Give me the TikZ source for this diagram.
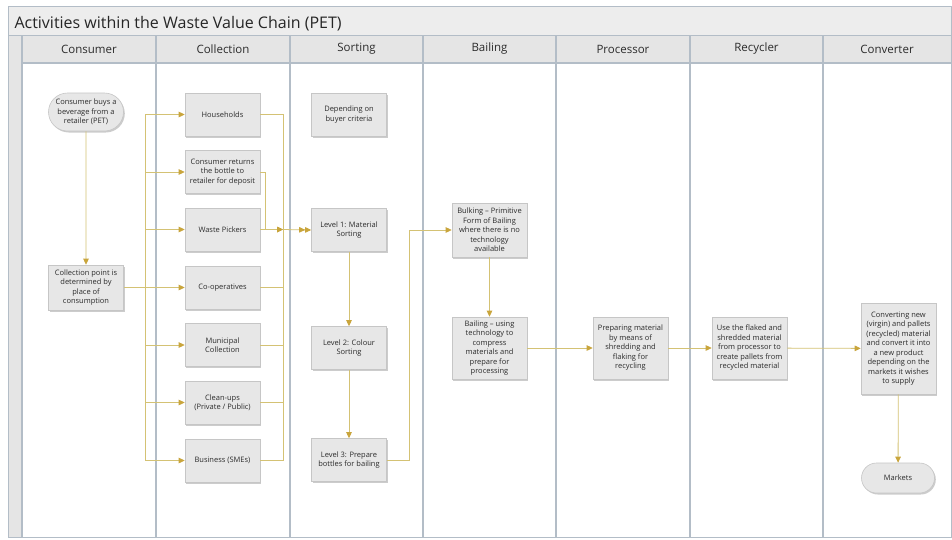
\documentclass[tikz,border=0pt]{standalone}
\usepackage{fontspec}
\setmainfont{Open Sans}
\usetikzlibrary{arrows.meta,shapes.misc,shadows}
\definecolor{flowgold}{HTML}{D4C274}
\definecolor{tipgold}{HTML}{C9A53C}
\definecolor{boxfill}{HTML}{E7E7E7}
\definecolor{boxline}{HTML}{C6C6C6}
\definecolor{lane}{HTML}{B3BDC7}
\definecolor{headfill}{HTML}{E5E5E5}
\definecolor{titlefill}{HTML}{EDEDED}
\definecolor{ink}{HTML}{2C2C2C}
\begin{document}
\begin{tikzpicture}[x=1pt,y=-1pt,
  proc/.style={draw=boxline, fill=boxfill, line width=0.6pt,
    minimum width=75pt, minimum height=43pt, inner sep=1pt, align=center,
    font=\fontsize{7.5}{9.5}\selectfont, text=ink,
    drop shadow={shadow xshift=1.3pt, shadow yshift=-1.5pt, fill=black, opacity=0.2}},
  term/.style={proc, rounded rectangle},
  wire/.style={draw=flowgold, line width=0.8pt},
  flow/.style={wire, -{Triangle[length=6pt, width=5.5pt, color=tipgold]}},
  flowtwo/.style={wire, -{Triangle[length=6pt, width=5.5pt, color=tipgold]
                          Triangle[length=6pt, width=5.5pt, color=tipgold]}},
  lanehead/.style={font=\fontsize{11.5}{13}\selectfont, text=ink},
  laneline/.style={draw=lane, line width=1.1pt}
]
\useasboundingbox (0,0) rectangle (952,539);
\fill[white] (0,0) rectangle (952,539);

% title band, left strip and lane headers
\fill[titlefill] (8,6) rectangle (951,35);
\fill[headfill] (8,35) rectangle (22,537);
\fill[headfill] (22,35) rectangle (951,63);
\draw[lane, line width=0.8pt] (8,6) rectangle (951,537);
\draw[lane, line width=0.8pt] (8,35) -- (951,35);
\draw[laneline] (22,63) -- (951,63);
\foreach \lx in {22,156,290,423,556,690,823}
  \draw[laneline] (\lx,35) -- (\lx,537);

\node[anchor=base west, font=\fontsize{16}{19}\selectfont, text=black!85] (title) at (11,28)
  {Activities within the Waste Value Chain (PET)};

\node[lanehead] (hcons) at (89,49) {Consumer};
\node[lanehead] (hcoll) at (223,49) {Collection};
\node[lanehead] (hsort) at (356.5,49) {Sorting};
\node[lanehead] (hbail) at (489.5,49) {Bailing};
\node[lanehead] (hproc) at (623,49) {Processor};
\node[lanehead] (hrecy) at (756.5,49) {Recycler};
\node[lanehead] (hconv) at (887,49) {Converter};

% Consumer lane
\node[term, minimum width=77pt, minimum height=38pt] (buy) at (86,112)
  {Consumer buys a\\beverage from a\\retailer (PET)};
\node[proc, minimum height=45pt] (cpoint) at (86,287.5)
  {Collection point is\\determined by\\place of\\consumption};

% Collection lane
\node[proc] (house)    at (222.5,114.5) {Households};
\node[proc] (returns)  at (222.5,172)   {Consumer returns\\the bottle to\\retailer for deposit};
\node[proc] (pickers)  at (222.5,229.5) {Waste Pickers};
\node[proc] (coop)     at (222.5,287.5) {Co-operatives};
\node[proc] (munic)    at (222.5,345)   {Municipal\\Collection};
\node[proc] (clean)    at (222.5,402.5) {Clean-ups\\(Private / Public)};
\node[proc] (business) at (222.5,460.5) {Business (SMEs)};

% Sorting lane
\node[proc] (criteria) at (349,114.5) {Depending on\\buyer criteria};
\node[proc] (lvl1)     at (349,230)   {Level 1: Material\\Sorting};
\node[proc] (lvl2)     at (349,348)   {Level 2: Colour\\Sorting};
\node[proc] (lvl3)     at (349,460)   {Level 3: Prepare\\bottles for bailing};

% Bailing lane
\node[proc, minimum height=54pt] (bulk) at (489.5,230)
  {Bulking -- Primitive\\Form of Bailing\\where there is no\\technology\\available};
\node[proc, minimum height=62pt] (bail) at (489.5,348)
  {Bailing -- using\\technology to\\compress\\materials and\\prepare for\\processing};

% Processor, Recycler and Converter lanes
\node[proc, minimum height=62pt] (prep) at (630.5,348)
  {Preparing material\\by means of\\shredding and\\flaking for\\recycling};
\node[proc, minimum height=62pt] (use) at (749.5,348)
  {Use the flaked and\\shredded material\\from processor to\\create pallets from\\recycled material};
\node[proc, minimum height=91pt] (conv) at (898.5,348.5)
  {Converting new\\(virgin) and pallets\\(recycled) material\\and convert it into\\a new product\\depending on the\\markets it wishes\\to supply};
\node[term, minimum width=75pt, minimum height=30pt] (markets) at (898,478) {Markets};

% connectors
\coordinate (bus) at (145,287.5);
\coordinate (merge) at (283,229.5);
\coordinate (riser) at (409,0);

\draw[flow] (buy) -- (cpoint);
\draw[wire] (cpoint.east) -- (bus);
\draw[flow] (bus) -- (coop.west);
\foreach \b in {house,returns,pickers,munic,clean,business}
  \draw[flow] (bus) |- (\b.west);

\foreach \b in {house,coop,munic,clean,business}
  \draw[wire] (\b.east) -| (merge);
\draw[flow] (returns.east) -- ++(5,0) |- (merge);
\draw[flow] (pickers.east) -- (merge);
\draw[flowtwo] (merge) -- (lvl1.west);

\draw[flow] (lvl1) -- (lvl2);
\draw[flow] (lvl2) -- (lvl3);
\draw[flow] (lvl3.east) -- (lvl3.east -| riser) |- (bulk.west);
\draw[flow] (bulk) -- (bail);
\draw[flow] (bail) -- (prep);
\draw[flow] (prep) -- (use);
\draw[flow] (use) -- (conv);
\draw[flow] (conv) -- (markets);
\end{tikzpicture}
\end{document}
